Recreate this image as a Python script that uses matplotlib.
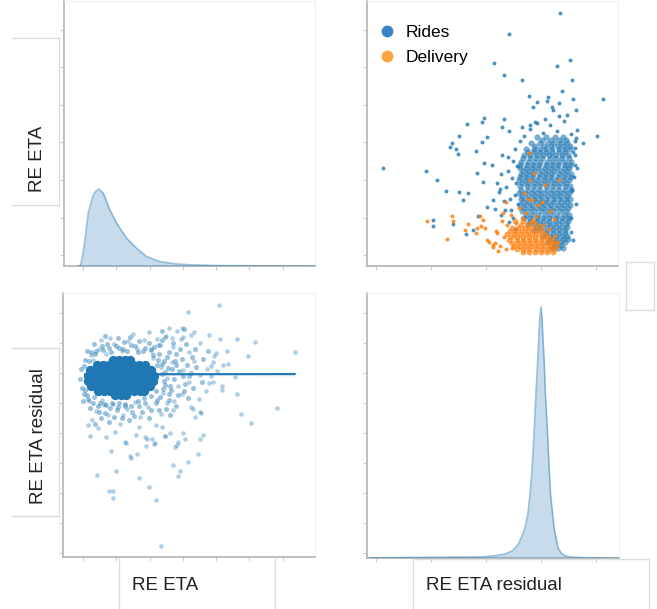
import numpy as np
import matplotlib
matplotlib.use("Agg")
import matplotlib.pyplot as plt
from matplotlib.lines import Line2D

plt.rcParams['font.family'] = ['Liberation Sans', 'DejaVu Sans']

BLUE = '#1f77b4'
ORANGE = '#ff7f0e'

# ---- diagonal KDEs ----
# RE ETA density
kde_eta_x = [-1.5, -0.7, 0.0, 0.6, 1.6, 3.1, 3.9, 4.8, 6.1, 8.1, 10.1, 13.1,
             16.1, 19.1, 23.1, 28.1, 33.0, 41.1, 53.2, 69.7]
kde_eta_y = [0, 0.00025, 0.006, 0.013, 0.0265, 0.0355, 0.0375, 0.0384, 0.0364,
             0.028, 0.0214, 0.0139, 0.0089, 0.0047, 0.0022, 0.001, 0.0005,
             0.0002, 0.00008, 0]

# RE ETA residual density
kde_res_x = [-62.2, -51.3, -36.7, -25.8, -21.1, -16.0, -13.1, -10.5, -8.4, -6.9,
             -5.8, -4.7, -4.0, -3.3, -2.4, -1.8, -1.2, -0.7, -0.4, 0.0, 0.4, 0.7,
             1.2, 1.6, 2.3, 2.9, 3.5, 4.2, 4.8, 5.6, 6.2, 7.5, 9.1, 11.3, 16.0, 28.0]
kde_res_y = [0.0002, 0.0004, 0.0007, 0.001, 0.0012, 0.0025, 0.004, 0.007, 0.013,
             0.022, 0.030, 0.045, 0.063, 0.085, 0.130, 0.165, 0.196, 0.225, 0.240,
             0.251, 0.240, 0.220, 0.196, 0.165, 0.130, 0.095, 0.063, 0.045, 0.030,
             0.018, 0.010, 0.0045, 0.002, 0.0008, 0.0003, 0]

# ---- top right: residual (x) vs RE ETA (y), by service ----
# dense body of the Rides cloud, row by row (RE ETA level: residuals)
rides_core_rows = {
    31.5: [-1.6, 1.9, 5.2, 8.1],
    30.7: [0.2, 3.6, 6.4, 9.0],
    29.9: [-3.8, -0.4, 2.6, 4.9, 7.3, 9.6],
    29.0: [-2.2, 1.1, 3.7, 6.1, 8.5, 10.4],
    28.2: [-5.5, -2.7, -0.3, 1.8, 4.1, 6.4, 8.7, 10.6],
    27.4: [-4.9, -2.6, -0.4, 1.7, 4.0, 6.4, 8.8],
    26.6: [-6.1, -3.9, -1.6, 0.6, 2.9, 5.2, 7.7, 9.9],
    25.7: [-6.5, -4.1, -1.9, 0.5, 3.1, 5.4, 7.8, 10.1],
    24.9: [-7.2, -4.8, -2.5, -0.2, 2.1, 4.4, 6.6, 8.9, 10.8],
    24.0: [-7.5, -5.2, -2.9, -0.6, 1.7, 4.0, 6.2, 8.6, 10.6],
    23.2: [-7.8, -5.6, -3.3, -1.0, 1.3, 3.6, 5.9, 8.2, 10.3],
    22.4: [-6.7, -4.4, -2.1, 0.2, 2.5, 4.8, 7.1, 9.5],
    21.6: [-7.4, -5.1, -2.8, -0.5, 1.8, 4.1, 6.5, 8.8, 10.9],
    20.7: [-7.8, -5.5, -3.2, -0.9, 1.4, 3.7, 6.0, 8.3, 10.5],
    19.9: [-8.1, -5.9, -3.6, -1.3, 1.0, 3.3, 5.6, 7.9, 10.2],
    19.1: [-6.9, -4.6, -2.3, 0.0, 2.3, 4.6, 6.9, 9.2],
    18.3: [-7.6, -5.2, -2.9, -0.6, 1.7, 4.0, 6.3, 8.6, 10.7],
    17.4: [-7.2, -4.9, -2.6, -0.3, 2.0, 4.3, 6.6, 8.9, 10.8],
    16.6: [-7.9, -5.7, -3.4, -1.1, 1.2, 3.5, 5.8, 8.1, 10.3],
    15.8: [-6.8, -4.5, -2.2, 0.1, 2.4, 4.7, 7.0, 9.3],
    14.9: [-7.3, -5.0, -2.7, -0.4, 1.9, 4.2, 6.5, 8.8, 10.6],
    14.1: [-6.6, -4.3, -2.0, 0.3, 2.6, 4.9, 7.2, 9.5],
    13.3: [-7.7, -5.5, -3.2, -0.9, 1.4, 3.7, 6.0, 8.3, 10.4],
    12.4: [-6.1, -3.8, -1.5, 0.8, 3.1, 5.4, 7.7, 9.9],
    11.6: [-7.0, -4.7, -2.4, -0.1, 2.2, 4.5, 6.8, 9.1],
    10.8: [-5.6, -3.3, -1.0, 1.3, 3.6, 5.9, 8.2, 10.2],
    10.0: [-6.2, -3.9, -1.6, 0.7, 3.0, 5.3, 7.6, 9.8],
    9.1: [-3.9, -1.6, 0.7, 3.0, 5.3, 7.6, 9.7],
    8.3: [-4.8, -2.5, -0.2, 2.1, 4.4, 6.7, 9.0],
    7.5: [-1.4, 0.9, 3.2, 5.5, 7.8, 9.6],
    6.7: [-2.6, -0.3, 2.0, 4.3, 6.6, 8.9],
    5.8: [1.9, 4.2, 6.5, 8.6],
    5.0: [0.8, 3.1, 5.4, 7.7, 9.5],
    4.2: [3.6, 5.9, 8.1, 9.9],
    3.4: [2.4, 4.7, 7.0, 8.8],
    2.6: [5.2, 7.4],
    1.9: [4.0, 6.3, 8.1],
}
rides_pts = [(6.9, 64.3), (-11.6, 58.7), (10.5, 52.0), (5.7, 50.3), (-17.0, 51.0),
             (-13.5, 47.8), (-6.8, 46.7), (11.4, 46.5), (22.4, 41.4), (7.7, 43.6),
             (2.7, 42.1), (-4.3, 42.3), (-3.0, 39.4), (-1.3, 40.8), (2.1, 41.0),
             (3.9, 39.4), (6.7, 40.5), (11.5, 41.5), (9.3, 37.4), (12.7, 38.6),
             (4.2, 38.7), (1.5, 36.1), (-2.2, 35.5), (-4.0, 34.6), (-20.6, 36.6),
             (-21.6, 35.5), (-27.0, 34.8), (-29.7, 31.7), (-13.5, 36.2), (-14.3, 34.0),
             (-11.5, 33.1), (-7.0, 34.1), (-19.7, 31.3), (-21.6, 30.1), (-23.7, 27.7),
             (-32.5, 29.7), (-33.1, 28.8), (-30.9, 28.1), (-30.3, 27.0), (-57.6, 23.3),
             (-41.9, 22.3), (-37.7, 19.9), (-34.7, 17.1), (-29.7, 16.8), (-26.7, 16.4),
             (-28.3, 14.6), (-23.4, 21.9), (-20.7, 24.5), (-17.7, 23.9), (-14.7, 21.7),
             (-21.2, 19.5), (-16.1, 19.2), (-14.9, 17.5), (-14.2, 26.5), (-11.9, 26.1),
             (20.3, 31.7), (15.2, 29.7), (13.0, 33.2), (12.7, 31.2), (12.4, 28.4),
             (12.4, 26.5), (13.0, 23.1), (-39.4, 9.3), (-39.2, 7.7), (-27.3, 5.6),
             (-24.6, 6.6), (-22.8, 10.4), (-19.7, 12.8), (-17.3, 14.6), (-32.0, 8.2),
             (-10.5, 20.6), (-12.8, 18.2), (-9.6, 16.1), (-13.4, 14.3), (-10.9, 12.0),
             (-14.6, 10.6), (-11.8, 8.7), (-9.4, 6.9), (-15.2, 16.9), (-12.1, 22.4),
             (-8.9, 23.6), (-11.3, 15.0), (-9.1, 19.3), (-13.0, 11.9), (-10.1, 9.9),
             (-16.6, 12.3), (-8.4, 13.6), (-10.2, 25.1), (-9.5, 28.3), (-7.6, 30.4),
             (-4.1, 33.5), (-1.5, 35.2), (0.9, 32.4), (3.2, 34.6), (5.7, 33.0),
             (8.3, 35.8), (10.9, 32.1), (6.6, 37.0), (-6.3, 31.8), (12.2, 30.3),
             (11.6, 27.4), (12.5, 23.9), (11.9, 20.8), (11.3, 17.2), (12.6, 13.5),
             (11.0, 9.8), (10.8, 6.2), (11.5, 3.9)]
# dense bottom of the Delivery cloud, row by row
delivery_core_rows = {
    0.9: [-6.5, -4.3, -2.1, 0.1, 2.3, 4.4],
    1.7: [-8.6, -6.4, -4.2, -2.0, 0.2, 2.4, 4.6],
    2.5: [-9.8, -7.6, -5.4, -3.2, -1.0, 1.2, 3.4, 5.6],
    3.3: [-10.6, -8.4, -6.2, -4.0, -1.8, 0.4, 2.6, 4.8],
    4.1: [-11.5, -8.7, -6.5, -4.3, -2.1, 0.1, 2.3, 4.1],
    4.9: [-10.9, -8.7, -6.5, -4.3, -2.1, 0.2, 2.6],
    5.7: [-12.3, -9.8, -7.6, -5.4, -3.2, -1.0, 1.3],
    6.5: [-11.4, -9.0, -6.8, -4.6, -2.3, 0.3],
    7.3: [-10.6, -8.2, -5.9, -3.6, -0.8],
    8.1: [-7.3, -4.8, -2.0],
    9.0: [-9.3, -6.4, -3.1],
}
delivery_pts = [(-41.6, 9.0), (-34.1, 4.2), (-32.5, 10.4), (-32.1, 9.0), (-27.6, 6.6),
                (-26.4, 8.4), (-23.7, 5.8), (-23.4, 7.1), (-21.9, 7.7), (-21.0, 9.3),
                (-19.7, 4.0), (-17.6, 2.2), (-16.7, 3.3), (-16.1, 5.8), (-4.0, 19.9),
                (-4.3, 27.2), (6.7, 20.1), (0.3, 14.2), (-3.4, 14.6), (-12.7, 14.2),
                (-13.7, 11.1), (-15.5, 1.1), (-18.8, 3.5), (-17.3, 2.7), (-22.2, 10.4),
                (-20.4, 7.1), (-15.1, 2.3), (-13.6, 4.7), (-12.4, 7.9), (-14.3, 9.2),
                (-11.0, 10.6), (-9.2, 8.5), (-7.1, 9.8), (-5.4, 11.2), (-3.6, 8.9),
                (-1.9, 10.3), (0.8, 8.1), (2.9, 6.9), (5.1, 5.2), (6.3, 3.4),
                (-12.9, 1.5), (-10.4, 2.0), (-16.4, 6.4), (-8.1, 12.4), (-4.7, 14.8),
                (-1.2, 13.2), (3.4, 11.7), (-6.2, 16.5), (1.5, 18.7), (-2.5, 21.9), (4.8, 9.6)]

# ---- bottom left: RE ETA (x) vs residual (y) ----
# saturated core of the cloud, row by row (residual level: RE ETA values)
eta_core_rows = {
    4.3: [9.0, 10.8, 12.6, 14.0],
    2.6: [4.3, 6.1, 7.9, 9.7, 11.5, 13.3, 15.1, 16.9, 18.6],
    0.9: [2.2, 4.0, 5.8, 7.6, 9.4, 11.2, 13.0, 14.8, 16.6, 18.4, 20.3],
    -0.8: [1.4, 3.2, 5.0, 6.8, 8.6, 10.4, 12.2, 14.0, 15.8, 17.6, 19.4, 21.2],
    -2.5: [1.5, 3.3, 5.1, 6.9, 8.7, 10.5, 12.3, 14.1, 15.9, 17.7, 19.5, 21.1],
    -4.2: [2.5, 4.3, 6.1, 7.9, 9.7, 11.5, 13.3, 15.1, 16.9, 18.7, 20.2],
    -5.9: [4.6, 6.4, 8.2, 10.0, 11.8, 13.6, 15.4, 17.2, 18.2],
    -7.4: [9.6, 11.4, 13.0],
}
eta_fringe = [(22.8, 6.5), (24.3, 4.1), (25.9, 7.2), (23.7, -0.4), (25.5, 1.8), (27.2, -2.1),
              (24.6, -3.9), (26.4, -5.6), (28.9, 0.6), (29.6, 4.8), (27.8, 6.3), (30.7, -3.6),
              (23.2, -7.8), (25.8, -8.9), (28.4, -7.4), (31.2, 2.7), (23.1, 9.4), (26.9, 10.2),
              (21.9, -9.8), (24.9, -11.8), (30.2, -6.0), (32.4, 0.2), (20.5, 7.9), (22.3, 2.7),
              (21.8, -5.9), (1.9, 3.9), (3.5, 6.3), (6.1, 7.8), (8.4, 7.0), (10.9, 8.5),
              (13.1, 7.4), (15.6, 8.9), (17.9, 7.5), (19.8, 9.9), (12.2, 10.4), (7.3, 9.6),
              (1.1, -7.4), (2.9, -9.9), (4.6, -11.0), (6.2, -10.4), (8.0, -11.6), (10.3, -12.2),
              (12.7, -10.9), (14.6, -12.8), (16.9, -11.0), (18.7, -9.9), (20.3, -12.4),
              (9.4, -14.5), (5.3, -14.8), (13.8, -15.6), (0.6, -5.6), (0.4, 2.4),
              (0.5, 4.5), (2.3, 6.9), (4.0, 7.5), (5.7, 8.9), (7.8, 8.4), (9.9, 9.1),
              (12.0, 8.0), (14.3, 9.4), (16.5, 7.0), (18.6, 8.3), (20.9, 6.1), (22.5, 4.5),
              (-0.6, 1.3), (-0.9, -1.9), (-0.4, -4.8), (0.3, -7.0), (1.4, -8.6), (3.4, -8.1),
              (5.0, -9.9), (7.0, -10.6), (8.8, -9.8), (10.6, -11.3), (12.5, -10.2),
              (14.5, -10.9), (16.4, -9.2), (18.4, -8.4), (20.3, -7.6), (22.1, -9.0),
              (23.9, -5.3), (24.2, -2.6), (24.6, 0.3), (23.8, 2.9), (26.0, -4.4), (26.7, 1.4),
              (21.4, 8.6), (23.6, 11.0), (25.1, 5.5), (27.5, 4.2), (29.0, 7.9), (30.8, 9.6),
              (32.9, 5.3), (34.1, 1.9), (36.0, 4.6), (33.0, -4.9), (35.8, -2.9), (31.5, -8.4),
              (28.0, -11.0), (26.2, -13.8), (22.9, -12.3), (19.8, -14.9), (17.6, -13.0),
              (15.3, -14.4), (11.6, -15.1), (7.9, -16.2), (4.9, -12.9), (2.2, -11.6),
              (0.1, -9.4), (3.7, -16.9), (6.6, -13.4), (10.8, -9.8), (14.0, 11.9),
              (16.9, 10.6), (10.4, 11.7), (6.5, 12.5), (3.2, 9.7), (1.2, 7.4), (29.9, -1.1),
              (31.9, -0.9), (27.9, 2.6), (25.7, -7.0), (33.8, 8.1), (37.5, 7.3), (30.3, 14.6),
              (23.7, 14.0)]
eta_pts = [(2.5, 6.1), (4.8, 8.2), (6.9, 6.5), (9.2, 9.8), (11.7, 7.3), (13.5, 10.6),
           (16.2, 8.1), (18.4, 11.2), (20.3, 7.4), (22.6, 9.5), (24.9, 12.3), (27.1, 8.8),
           (29.4, 11.5), (31.8, 6.9), (5.5, 10.9), (8.1, 11.8), (15.0, 12.9), (19.7, 13.8),
           (25.8, 15.1), (28.3, 14.2), (33.5, 13.6), (21.1, 5.2), (3.1, 4.4),
           (23.4, 2.1), (25.2, -1.5), (26.8, 3.6), (28.5, -4.2), (30.1, 1.0), (31.7, -2.8),
           (33.4, 3.9), (35.2, -0.6), (36.9, -6.1), (38.6, 2.4), (24.1, -6.7), (27.3, -9.4),
           (29.8, -7.1), (32.5, -11.2), (34.9, -8.5), (37.8, -3.4), (40.2, 0.8), (41.9, -5.7),
           (39.5, 5.6), (43.6, 3.1), (45.7, -1.2),
           (1.9, -9.2), (3.8, -12.5), (5.6, -8.9), (7.4, -14.1), (9.1, -10.3), (11.2, -16.8),
           (13.3, -11.9), (15.5, -9.6), (17.2, -14.7), (19.6, -11.3), (21.8, -17.2),
           (23.5, -13.6), (4.4, -18.3), (6.8, -21.4), (9.7, -19.6), (12.5, -23.1),
           (15.9, -20.5), (18.8, -24.2), (2.6, -15.6), (26.1, -19.8), (8.3, -26.0),
           (14.2, -27.5), (20.7, -21.9), (11.9, -13.8), (16.8, -17.9),
           (40.8, 22.7), (31.5, 20.3), (29.7, 15.0), (37.8, 12.7), (41.1, 11.3), (46.2, 11.3),
           (51.6, 10.3), (63.6, 7.0), (49.5, 5.7), (43.2, 7.3), (58.2, -11.7), (47.4, -13.7),
           (50.4, -16.7), (46.2, -7.0), (23.4, -57.7), (21.9, -42.3), (19.8, -38.0),
           (16.8, -35.0), (9.0, -41.7), (9.0, -39.3), (7.8, -39.3), (4.2, -34.0), (9.9, -32.7),
           (39.9, 6.6), (42.1, 2.7), (39.1, 3.8), (37.2, 1.5), (38.4, -0.9), (35.1, 9.9),
           (32.6, 12.7), (30.1, 12.1), (24.6, 12.1), (22.1, 11.3), (26.6, 11.6),
           (35.6, -13.4), (33.1, -11.8), (33.6, -14.6), (27.1, -12.3), (25.1, -10.1),
           (30.1, -20.1), (28.6, -22.9), (27.6, -24.6), (30.6, -21.8), (35.1, -21.8),
           (36.1, -20.7), (34.6, -27.1), (31.6, -29.6), (41.9, -4.2), (39.1, -3.1),
           (24.6, -20.9), (23.6, -17.9), (21.6, -23.4), (19.1, -21.8), (2.1, -20.9),
           (1.6, -17.3), (12.9, -23.4), (14.4, -28.4), (16.1, -27.0), (27.1, -30.7),
           (29.1, -32.6), (28.5, -34.3), (18.6, -21.2), (21.3, -23.7), (24.5, -20.9),
           (28.1, -24.0), (35.3, -13.0)]
reg_x = [0.6, 63.6]
reg_y = [-0.4, -0.3]
reg_ci = [0.3, 0.6]

ETA_TICKS = [0, 10, 20, 30, 40, 50, 60]
RES_TICKS_X = [-60, -40, -20, 0, 20]
RES_TICKS_Y = [-60, -50, -40, -30, -20, -10, 0, 10, 20]


def rows_to_xy(rows):
    return np.array([(x, y) for y, xs in rows.items() for x in xs])


W, H = 657, 609
fig = plt.figure(figsize=(W / 100, H / 100), dpi=100)


def px_axes(l, t, r, b):
    return fig.add_axes([l / W, 1 - b / H, (r - l) / W, (b - t) / H])


def style(ax):
    for s in ['left', 'bottom']:
        ax.spines[s].set_color('#b3b3b3')
        ax.spines[s].set_linewidth(1.2)
    for s in ['top', 'right']:
        ax.spines[s].set_color('#f0f0f0')
        ax.spines[s].set_linewidth(0.8)
    ax.tick_params(length=3, width=0.8, color='#cfcfcf',
                   labelbottom=False, labelleft=False)


def kde_twin(ax, x, y, top):
    tw = ax.twinx()
    tw.fill_between(x, 0, y, color=BLUE, alpha=0.25, lw=0)
    tw.plot(x, y, color=BLUE, alpha=0.45, lw=1.2)
    tw.set_ylim(0, top)
    tw.set_yticks([])
    for s in tw.spines.values():
        s.set_visible(False)


# top left
ax_tl = px_axes(64, 1, 315, 266)
ax_tl.set_xlim(-5.7, 69.7)
ax_tl.set_ylim(-2.9, 67.6)
ax_tl.set_xticks(ETA_TICKS)
ax_tl.set_yticks(ETA_TICKS)
style(ax_tl)
kde_twin(ax_tl, kde_eta_x, kde_eta_y, 0.1325)

# top right
ax_tr = px_axes(367, 1, 618, 266)
rc = rows_to_xy(rides_core_rows); rp = np.array(rides_pts)
dc = rows_to_xy(delivery_core_rows); dp = np.array(delivery_pts)
ax_tr.scatter(rc[:, 0], rc[:, 1], s=20, color=BLUE, alpha=0.6, lw=0)
ax_tr.scatter(rp[:, 0], rp[:, 1], s=8, color=BLUE, alpha=0.8, lw=0)
ax_tr.scatter(dc[:, 0], dc[:, 1], s=18, color=ORANGE, alpha=0.7, lw=0)
ax_tr.scatter(dp[:, 0], dp[:, 1], s=8, color=ORANGE, alpha=0.85, lw=0)
ax_tr.set_xlim(-63.3, 28.0)
ax_tr.set_ylim(-2.9, 67.6)
ax_tr.set_xticks(RES_TICKS_X)
ax_tr.set_yticks(ETA_TICKS)
style(ax_tr)
handles = [Line2D([], [], marker='o', ls='', color='#3a83c6', markersize=7.5),
           Line2D([], [], marker='o', ls='', color='#fda43d', markersize=7.5)]
ax_tr.legend(handles, ['Rides', 'Delivery'], loc='upper left',
             bbox_to_anchor=(0.045, 0.91), frameon=False, fontsize=12.5,
             borderpad=0, borderaxespad=0, handlelength=1.0, handletextpad=0.6,
             labelspacing=0.55)

# bottom left
ax_bl = px_axes(63, 293, 315, 557)
ec = rows_to_xy(eta_core_rows); ef = np.array(eta_fringe); ep = np.array(eta_pts)
ax_bl.scatter(ep[:, 0], ep[:, 1], s=11, color=BLUE, alpha=0.35, lw=0)
ax_bl.scatter(ef[:, 0], ef[:, 1], s=13, color=BLUE, alpha=0.45, lw=0)
ax_bl.scatter(ec[:, 0], ec[:, 1], s=45, color=BLUE, alpha=1.0, lw=0)
ax_bl.fill_between(reg_x, np.array(reg_y) - reg_ci, np.array(reg_y) + reg_ci,
                   color=BLUE, alpha=0.2, lw=0)
ax_bl.plot(reg_x, reg_y, color=BLUE, lw=1.4)
ax_bl.set_xlim(-6.0, 69.7)
ax_bl.set_ylim(-61.3, 26.7)
ax_bl.set_xticks(ETA_TICKS)
ax_bl.set_yticks(RES_TICKS_Y)
style(ax_bl)

# bottom right
ax_br = px_axes(367, 293, 619, 558)
ax_br.set_xlim(-63.3, 28.4)
ax_br.set_ylim(-61.7, 26.7)
ax_br.set_xticks(RES_TICKS_X)
ax_br.set_yticks(RES_TICKS_Y)
style(ax_br)
kde_twin(ax_br, kde_res_x, kde_res_y, (558 - 293) / 1000)

# axis labels
lab = dict(fontsize=13.5, color='#222222')
fig.text(42.3 / W, 1 - 159 / H, 'RE ETA', rotation=90, rotation_mode='anchor',
         ha='center', va='baseline', **lab)
fig.text(42.7 / W, 1 - 436 / H, 'RE ETA residual', rotation=90, rotation_mode='anchor',
         ha='center', va='baseline', **lab)
fig.text(165 / W, 1 - 590 / H, 'RE ETA', ha='center', va='baseline', **lab)
fig.text(494 / W, 1 - 590 / H, 'RE ETA residual', ha='center', va='baseline', **lab)


# faint label frames left over from the slide
def seg(x0, y0, x1, y1):
    fig.add_artist(Line2D([x0 / W, x1 / W], [1 - y0 / H, 1 - y1 / H],
                          color='#dedede', lw=1.0))


for t, b in [(38, 205), (348, 516)]:
    seg(12, t, 59, t); seg(12, b, 59, b); seg(59, t, 59, b)
seg(119, 558, 119, 609); seg(275, 558, 275, 609)
seg(413, 559, 649, 559); seg(413, 559, 413, 609); seg(649, 559, 649, 609)
seg(626, 262, 654, 262); seg(626, 310, 654, 310)
seg(626, 262, 626, 310); seg(654, 262, 654, 310)

fig.savefig('out.png', dpi=100)
